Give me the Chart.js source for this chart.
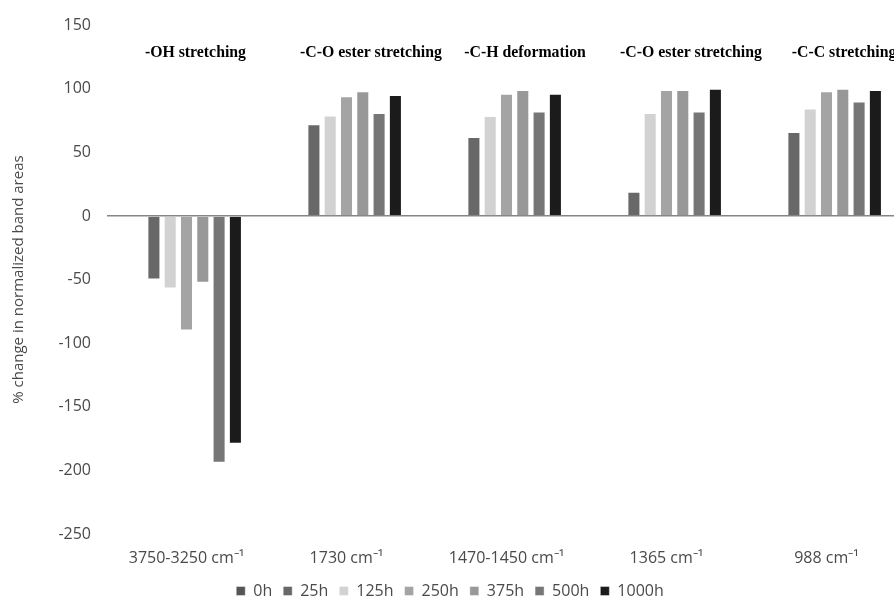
<!DOCTYPE html>
<html>
<head>
<meta charset="utf-8">
<title>Band area change</title>
<script src="https://cdn.jsdelivr.net/npm/chart.js@4/dist/chart.umd.min.js"></script>
<style>
  html, body { margin: 0; padding: 0; background: #fff; overflow: hidden; }
  #wrap { width: 894px; height: 600px; }
</style>
</head>
<body>
<div id="wrap"><canvas id="bands" width="894" height="600"></canvas></div>
<script>
// FTIR bands and what each one is assigned to
const bands = ["3750-3250 cm⁻¹", "1730 cm⁻¹", "1470-1450 cm⁻¹", "1365 cm⁻¹", "988 cm⁻¹"];
const assignments = ["-OH stretching", "-C-O ester stretching", "-C-H deformation", "-C-O ester stretching", "-C-C stretching"];

// exposure times, one series each (% change in normalized band area)
const hours = ["0h", "25h", "125h", "250h", "375h", "500h", "1000h"];
const h0 = [0, 0, 0, 0, 0];
const h25 = [-50, 72, 62, 19, 66];
const h125 = [-57, 79, 78.5, 81, 84.5];
const h250 = [-90, 94, 96, 99, 98];
const h375 = [-52.5, 98, 99, 99, 100];
const h500 = [-194, 81, 82, 82, 90];
const h1000 = [-179, 95, 96, 100, 99];

const yTicks = [-250, -200, -150, -100, -50, 0, 50, 100, 150];

const series = [h0, h25, h125, h250, h375, h500, h1000];
const greys = ["#555555", "#686868", "#d2d2d2", "#a4a4a4", "#989898", "#767676", "#1b1b1b"];

// where the assignment captions sit: shift from the band index, and height in axis units
const noteShift = [0.056, 0.153, 0.116, 0.153, 0.11];
const noteLevel = 128;

const tickFont = { family: "'Open Sans', sans-serif", size: 16 };
const titleFont = { family: "'Open Sans', sans-serif", size: 15 };
const axisColor = "#4a4a4a";

const bandNotes = {
  id: "bandNotes",
  afterDatasetsDraw(chart) {
    const { ctx, scales: { x, y } } = chart;
    ctx.save();
    ctx.font = "bold 15.8px 'Liberation Serif', serif";
    ctx.fillStyle = "#000";
    ctx.textAlign = "center";
    ctx.textBaseline = "middle";
    assignments.forEach((txt, i) => {
      ctx.fillText(txt, x.getPixelForValue(i + noteShift[i]), y.getPixelForValue(noteLevel));
    });
    ctx.restore();
  },
};

new Chart(document.getElementById("bands"), {
  type: "bar",
  data: {
    datasets: hours.map((label, k) => ({
      label,
      data: series[k].map((v, i) => ({ x: i, y: v })),
      backgroundColor: greys[k],
      borderColor: "rgba(255,255,255,0.4)",
      borderWidth: 1,
      categoryPercentage: 0.713,
      barPercentage: 0.8,
    })),
  },
  options: {
    responsive: false,
    animation: false,
    layout: { padding: { left: 6, right: 0, top: 20, bottom: 0 } },
    plugins: {
      tooltip: { enabled: false },
      legend: {
        position: "bottom",
        maxHeight: 28,
        labels: {
          boxWidth: 9,
          boxHeight: 9,
          padding: 11,
          color: axisColor,
          font: tickFont,
        },
      },
    },
    scales: {
      x: {
        type: "linear",
        min: -0.5,
        max: 4.421875,
        offset: false,
        grid: { display: false, offset: false, drawTicks: false },
        border: { display: false },
        afterFit(scale) { scale.height = 38; },
        ticks: {
          stepSize: 1,
          includeBounds: false,
          autoSkip: false,
          maxRotation: 0,
          padding: 15,
          color: axisColor,
          font: tickFont,
          callback: (v) => bands[v] ?? "",
        },
      },
      y: {
        min: -250,
        max: 150,
        afterFit(scale) { scale.width = 100.5; },
        afterBuildTicks(scale) { scale.ticks = yTicks.map((value) => ({ value })); },
        grid: {
          drawTicks: false,
          color: (c) => (c.tick && c.tick.value === 0 ? "#868686" : "rgba(0,0,0,0)"),
          lineWidth: 1.5,
        },
        border: { display: false },
        ticks: { padding: 15.5, color: axisColor, font: tickFont },
        title: {
          display: true,
          text: "% change in normalized band areas",
          color: axisColor,
          font: titleFont,
          padding: { top: 4, bottom: 10 },
        },
      },
    },
  },
  plugins: [bandNotes],
});
</script>
</body>
</html>
